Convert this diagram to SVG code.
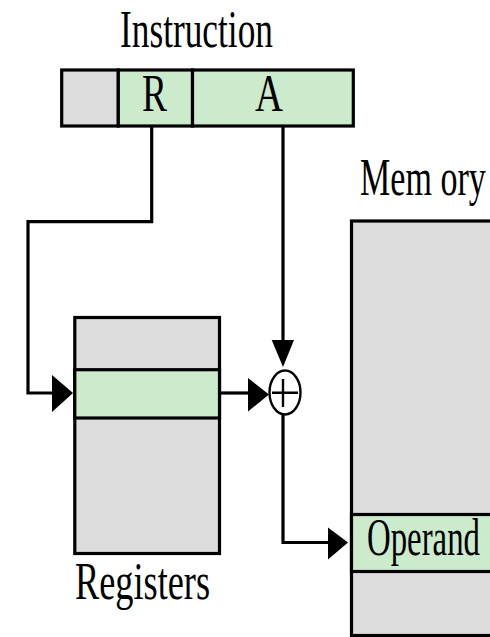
<svg xmlns="http://www.w3.org/2000/svg" width="490" height="637" viewBox="0 0 490 637">
<style>
.box{stroke:#000;stroke-width:3.2}
.gray{fill:#DCDCDC}
.green{fill:#CCEACC}
.ln{fill:none;stroke:#000;stroke-width:3.2}
.ah{fill:#000}
.lbl{font-family:"Liberation Serif","Times New Roman",serif;font-size:52px;fill:#000}
</style>
<rect width="490" height="637" fill="#fff"/>
<g id="instruction">
<text class="lbl" transform="translate(120,47) scale(0.679,1)">Instruction</text>
<rect class="box gray" x="61.7" y="70" width="56.6" height="56"/>
<rect class="box green" x="118.3" y="70" width="74.2" height="56"/>
<rect class="box green" x="192.5" y="70" width="160.8" height="56"/>
<text class="lbl" transform="translate(142,111) scale(0.72,1)">R</text>
<text class="lbl" transform="translate(255,111) scale(0.746,1)">A</text>
</g>
<g id="registers">
<rect class="box gray" x="74.8" y="317.5" width="144.7" height="236"/>
<rect class="box green" x="74.8" y="369.7" width="144.7" height="48.3"/>
<text class="lbl" transform="translate(75,599) scale(0.698,1)">Registers</text>
</g>
<g id="memory">
<text class="lbl" transform="translate(360,195) scale(0.655,1)">Mem ory</text>
<rect class="box gray" x="351.5" y="221" width="200" height="414.5"/>
<rect class="box green" x="351.5" y="514.5" width="200" height="57"/>
<text class="lbl" transform="translate(367,555) scale(0.631,1)">Operand</text>
</g>
<g id="adder">
<ellipse cx="285" cy="392.5" rx="15.5" ry="22" fill="#fff" stroke="#000" stroke-width="2.4"/>
<path d="M272 392.7H298M283 379V407" stroke="#000" stroke-width="2.4" fill="none"/>
</g>
<g id="connectors">
<path class="ln" d="M151.7 127V221.7H28V393H55"/>
<polygon class="ah" points="52,375 73,393 52,412"/>
<path class="ln" d="M219.5 393H250"/>
<polygon class="ah" points="248,378 269,394.5 248,411.5"/>
<path class="ln" d="M283 127V343"/>
<polygon class="ah" points="271.7,340 294,340 283,367"/>
<path class="ln" d="M283 414.5V542.5H330"/>
<polygon class="ah" points="328,527.5 348,542.5 328,559.5"/>
</g>
</svg>
